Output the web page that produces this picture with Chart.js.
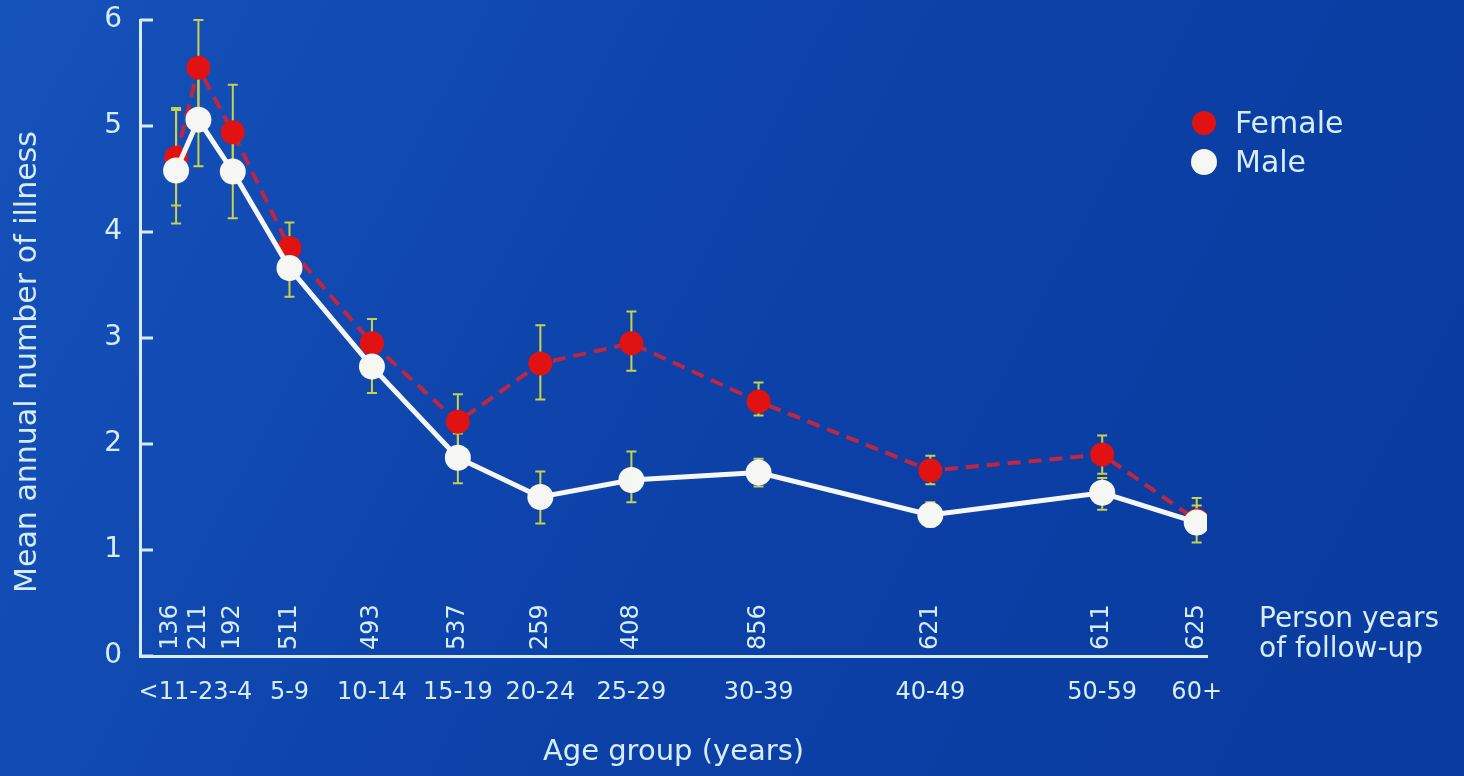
<!DOCTYPE html>
<html>
<head>
<meta charset="utf-8">
<script src="https://cdn.jsdelivr.net/npm/chart.js@4.4.1/dist/chart.umd.min.js"></script>
<style>
  html, body { margin: 0; padding: 0; background: #0d41a6; }
  #wrap { width: 1464px; height: 776px; position: relative; }
</style>
</head>
<body>
<div id="wrap"><canvas id="c"></canvas></div>
<script>
// Age groups, the age each group is plotted at, and person-years of follow-up
const ageGroups   = ['<1', '1-2', '3-4', '5-9', '10-14', '15-19', '20-24', '25-29', '30-39', '40-49', '50-59', '60+'];
const ageAt       = [1.1, 2.4, 4.4, 7.7, 12.5, 17.5, 22.3, 27.6, 35, 45, 55, 60.5];
const personYears = [136, 211, 192, 511, 493, 537, 259, 408, 856, 621, 611, 625];

// Mean annual number of illnesses with error-bar limits
const femaleMean = [4.70, 5.55, 4.94, 3.85, 2.95, 2.21, 2.76, 2.95, 2.40, 1.75, 1.90, 1.28];
const femaleLow  = [4.25, 5.10, 4.49, 3.60, 2.72, 1.95, 2.42, 2.69, 2.27, 1.62, 1.72, 1.15];
const femaleHigh = [5.15, 6.00, 5.39, 4.09, 3.18, 2.47, 3.12, 3.25, 2.58, 1.89, 2.08, 1.42];
const maleMean   = [4.58, 5.06, 4.57, 3.66, 2.73, 1.87, 1.50, 1.66, 1.73, 1.33, 1.54, 1.26];
const maleLow    = [4.08, 4.62, 4.13, 3.39, 2.48, 1.63, 1.25, 1.45, 1.60, 1.22, 1.38, 1.07];
const maleHigh   = [5.17, 5.50, 5.01, 3.90, 2.98, 2.10, 1.74, 1.93, 1.86, 1.45, 1.68, 1.49];

const yTicks = [0, 1, 2, 3, 4, 5, 6];

const INK = '#d6ecff';
const FONT = '"DejaVu Sans", sans-serif';
const FEMALE_RED = '#e01212';
const FEMALE_LINE = '#c02642';
const MALE_WHITE = '#f6f6f2';
const BAR_COLOR = '#c6d24c';

const toPoints = (vals) => vals.map((v, i) => ({ x: ageAt[i], y: v }));

// Background, error bars, axis decorations, category labels and legend
const decorations = {
  id: 'decorations',
  beforeDraw(chart) {
    const { ctx, width, height } = chart;
    const g = ctx.createLinearGradient(0, 0, width, height);
    g.addColorStop(0, '#1552ba');
    g.addColorStop(0.5, '#0c41a8');
    g.addColorStop(1, '#0a3b9e');
    ctx.save();
    ctx.fillStyle = g;
    ctx.fillRect(0, 0, width, height);
    ctx.restore();
  },
  beforeDatasetsDraw(chart) {
    const { ctx, scales: { x, y } } = chart;
    ctx.save();
    ctx.strokeStyle = BAR_COLOR;
    ctx.lineWidth = 2;
    const bars = [[femaleLow, femaleHigh], [maleLow, maleHigh]];
    bars.forEach(([lo, hi]) => {
      ageAt.forEach((a, i) => {
        const px = x.getPixelForValue(a);
        const y0 = y.getPixelForValue(lo[i]);
        const y1 = y.getPixelForValue(hi[i]);
        ctx.beginPath();
        ctx.moveTo(px, y0); ctx.lineTo(px, y1);
        ctx.moveTo(px - 5, y0); ctx.lineTo(px + 5, y0);
        ctx.moveTo(px - 5, y1); ctx.lineTo(px + 5, y1);
        ctx.stroke();
      });
    });
    ctx.restore();
  },
  afterDraw(chart) {
    const { ctx, chartArea, scales: { x, y } } = chart;
    ctx.save();
    ctx.fillStyle = INK;
    ctx.strokeStyle = INK;

    // inward tick marks on the y axis
    ctx.lineWidth = 3;
    yTicks.forEach(t => {
      const py = y.getPixelForValue(t);
      ctx.beginPath();
      ctx.moveTo(chartArea.left, py);
      ctx.lineTo(chartArea.left + 13, py);
      ctx.stroke();
    });

    // y axis title
    ctx.save();
    ctx.translate(28, 362);
    ctx.rotate(-Math.PI / 2);
    ctx.font = `30px ${FONT}`;
    ctx.textAlign = 'center';
    ctx.textBaseline = 'middle';
    ctx.fillText('Mean annual number of illness', 0, 0);
    ctx.restore();

    // age-group labels under the axis, nudged left where they would collide
    ctx.font = `24px ${FONT}`;
    ctx.textAlign = 'center';
    ctx.textBaseline = 'middle';
    let right = Infinity;
    const centers = [];
    for (let i = ageGroups.length - 1; i >= 0; i--) {
      const w = ctx.measureText(ageGroups[i]).width;
      let c = x.getPixelForValue(ageAt[i]);
      if (c + w / 2 > right) c = right - w / 2;
      centers[i] = c;
      right = c - w / 2;
    }
    ageGroups.forEach((lab, i) => ctx.fillText(lab, centers[i], chartArea.bottom + 37));

    // person-years, written upwards just above the axis
    let next = Infinity;
    const pos = [];
    for (let i = personYears.length - 1; i >= 0; i--) {
      let c = x.getPixelForValue(ageAt[i]);
      if (c > next - 28) c = next - 28;
      pos[i] = c;
      next = c;
    }
    ctx.textAlign = 'left';
    personYears.forEach((v, i) => {
      ctx.save();
      ctx.translate(pos[i], chartArea.bottom - 6);
      ctx.rotate(-Math.PI / 2);
      ctx.fillText(String(v), 0, 0);
      ctx.restore();
    });

    // caption for the person-years row
    ctx.font = `28px ${FONT}`;
    ctx.textAlign = 'left';
    ctx.textBaseline = 'alphabetic';
    ctx.fillText('Person years', 1259, 627);
    ctx.fillText('of follow-up', 1259, 657);

    // legend
    const items = chart.data.datasets.map(ds => ({ label: ds.label, color: ds.pointBackgroundColor, r: ds.pointRadius }));
    items.forEach((it, k) => {
      const cy = 123 + k * 39;
      ctx.beginPath();
      ctx.fillStyle = it.color;
      ctx.arc(1204, cy, it.r, 0, Math.PI * 2);
      ctx.fill();
      ctx.fillStyle = INK;
      ctx.font = `30px ${FONT}`;
      ctx.textBaseline = 'middle';
      ctx.fillText(it.label, 1235, cy + 2);
    });
    ctx.restore();
  }
};

new Chart(document.getElementById('c'), {
  type: 'line',
  data: {
    datasets: [
      {
        label: 'Female',
        data: toPoints(femaleMean),
        borderColor: FEMALE_LINE,
        borderWidth: 4,
        borderDash: [13, 8],
        pointBackgroundColor: FEMALE_RED,
        pointBorderColor: FEMALE_RED,
        pointBorderWidth: 0,
        pointRadius: 12,
        tension: 0,
        order: 2
      },
      {
        label: 'Male',
        data: toPoints(maleMean),
        borderColor: MALE_WHITE,
        borderWidth: 5,
        pointBackgroundColor: MALE_WHITE,
        pointBorderColor: MALE_WHITE,
        pointBorderWidth: 0,
        pointRadius: 13,
        tension: 0,
        order: 1
      }
    ]
  },
  options: {
    responsive: true,
    maintainAspectRatio: false,
    animation: false,
    layout: { padding: { top: 20, right: 257, left: 0, bottom: 0 } },
    plugins: {
      legend: { display: false },
      tooltip: { enabled: false }
    },
    scales: {
      x: {
        type: 'linear',
        min: -1,
        max: 61.1,
        grid: { display: false },
        border: { display: true, color: INK, width: 3 },
        ticks: { display: false },
        title: {
          display: true,
          text: 'Age group (years)',
          color: INK,
          font: { family: FONT, size: 29 },
          padding: { top: 0, bottom: 6 }
        },
        afterFit(scale) { scale.height = 120; scale.paddingLeft = 0; scale.paddingRight = 0; }
      },
      y: {
        min: 0,
        max: 6,
        afterBuildTicks(scale) { scale.ticks = yTicks.map(v => ({ value: v })); },
        grid: { drawOnChartArea: false, drawTicks: false },
        border: { display: true, color: INK, width: 3 },
        ticks: {
          color: INK,
          font: { family: FONT, size: 28 },
          padding: 18
        },
        afterFit(scale) { scale.width = 140; scale.paddingTop = 0; scale.paddingBottom = 0; }
      }
    }
  },
  plugins: [decorations]
});
</script>
</body>
</html>
